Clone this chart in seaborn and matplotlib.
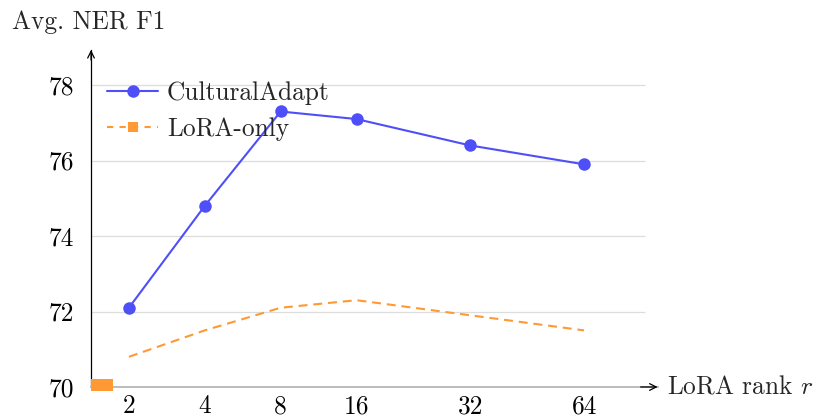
import matplotlib
matplotlib.use("Agg")
import matplotlib.pyplot as plt
import numpy as np
import pandas as pd
import seaborn as sns

# chart values
RANKS = ["2", "4", "8", "16", "32", "64"]
RANK_POS = [0, 1, 2, 3, 4.5, 6]
CULTURAL_ADAPT = [72.1, 74.8, 77.3, 77.1, 76.4, 75.9]
LORA_ONLY = [70.8, 71.5, 72.1, 72.3, 71.9, 71.5]
Y_TICKS = [70, 72, 74, 76, 78]

BLUE = "#4f4ff8"
ORANGE = "#ff9933"
FS = 18.3

sns.set_theme(style="white")
plt.rcParams["font.family"] = ["cmr10", "DejaVu Serif"]
plt.rcParams["mathtext.fontset"] = "cm"
plt.rcParams["axes.formatter.use_mathtext"] = True

df = pd.DataFrame(
    {
        "pos": RANK_POS * 2,
        "f1": CULTURAL_ADAPT + LORA_ONLY,
        "method": ["CulturalAdapt"] * len(RANKS) + ["LoRA-only"] * len(RANKS),
    }
)

fig = plt.figure(figsize=(8.2, 4.19), dpi=100)
ax = fig.add_axes([0.111, 0.0764, 0.691, 0.8043])
ax.set_xlim(-0.5, 6.97)
ax.set_ylim(70, 78.93)

# grid lines
ax.hlines(Y_TICKS[1:], -0.5, 6.8, color="#dddddd", lw=0.9, zorder=0)

sns.lineplot(data=df[df.method == "CulturalAdapt"], x="pos", y="f1", ax=ax,
             color=BLUE, lw=1.5, marker="o", markersize=9, markeredgewidth=0,
             label="CulturalAdapt", zorder=3)
sns.lineplot(data=df[df.method == "LoRA-only"], x="pos", y="f1", ax=ax,
             color=ORANGE, lw=1.5, label="LoRA-only", zorder=3)
ax.lines[-1].set_linestyle((0, (4.3, 2.8)))

# stray square marks at the origin
ax.plot([-0.42, -0.29], [70.06, 70.06], ls="none", marker="s", ms=9,
        color=ORANGE, mew=0, clip_on=False, zorder=4)

# legend with marker on the dashed entry
handles = [
    plt.Line2D([], [], color=BLUE, lw=1.5, marker="o", ms=9, mew=0),
    plt.Line2D([], [], color=ORANGE, lw=1.5, ls=(0, (3, 3)), marker="s", ms=7, mew=0),
]
ax.legend(handles, ["CulturalAdapt", "LoRA-only"], loc="upper left",
          bbox_to_anchor=(-0.012, 0.975), frameon=False, fontsize=FS,
          handlelength=2.0, handletextpad=0.35, labelspacing=0.47, borderaxespad=0.5)

# axes styling
for s in ["top", "right"]:
    ax.spines[s].set_visible(False)
ax.spines["left"].set_color("black")
ax.spines["left"].set_linewidth(0.9)
ax.spines["bottom"].set_color("#b0b0b0")
ax.spines["bottom"].set_linewidth(1.2)

ax.set_xticks(RANK_POS)
ax.set_xticklabels(RANKS)
ax.set_yticks(Y_TICKS)
ax.set_yticklabels([str(v) for v in Y_TICKS])
ax.tick_params(axis="both", direction="inout", length=5, width=0.8,
               colors="#444444", labelcolor="black", labelsize=FS, pad=3)
ax.tick_params(axis="y", pad=10)
ax.tick_params(axis="x", pad=3)
ax.set_xlabel("")
ax.set_ylabel("")

# arrow heads
ax.annotate("", xy=(1.0, 0), xytext=(0.97, 0), xycoords="axes fraction",
            arrowprops=dict(arrowstyle="->", color="black", lw=0.9,
                            shrinkA=0, shrinkB=0), annotation_clip=False)
ax.annotate("", xy=(0, 1.0), xytext=(0, 0.97), xycoords="axes fraction",
            arrowprops=dict(arrowstyle="->", color="black", lw=0.9,
                            shrinkA=0, shrinkB=0), annotation_clip=False)

fig.text(0.0146, 0.947, "Avg. NER F1", fontsize=FS, va="center", ha="left")
fig.text(0.814, 0.0764, "LoRA rank $r$", fontsize=FS, va="center", ha="left")

fig.savefig("out.png", dpi=100)
